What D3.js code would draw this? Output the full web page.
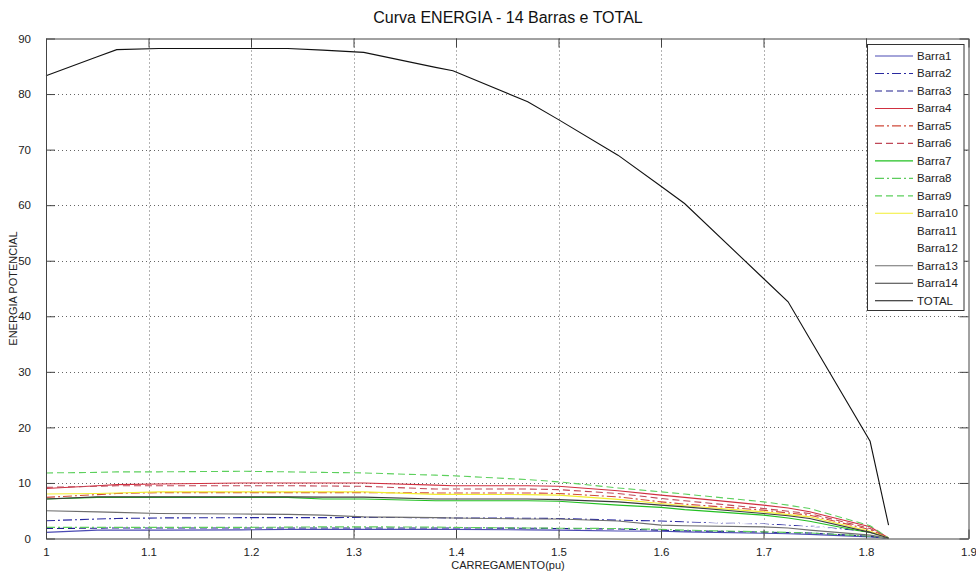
<!DOCTYPE html>
<html>
<head>
<meta charset="utf-8">
<script src="https://cdn.jsdelivr.net/npm/d3@7"></script>
<style>
  html, body { margin: 0; padding: 0; background: #fff; }
  svg { display: block; font-family: "Liberation Sans", Arial, sans-serif; }
</style>
</head>
<body>
<svg id="chart" width="976" height="574"></svg>
<script>
// Loading levels (pu) shared by every curve
const carregamento = [1.00, 1.05, 1.069, 1.11, 1.19, 1.236, 1.27, 1.31, 1.38, 1.397,
                      1.47, 1.50, 1.558, 1.60, 1.623, 1.70, 1.724, 1.745, 1.804, 1.822];

// Potential energy per bus
const barra1  = [1.1, 1.5, 1.5, 1.5, 1.55, 1.65, 1.65, 1.65, 1.65, 1.65, 1.55, 1.5, 1.35, 1.3, 1.2, 0.95, 0.85, 0.75, 0.3, 0.05];
const barra2  = [3.2, 3.5, 3.6, 3.7, 3.75, 3.75, 3.75, 3.8, 3.75, 3.7, 3.65, 3.6, 3.3, 3.15, 3.0, 2.6, 2.4, 2.25, 1.2, 0.05];
const barra3  = [1.8, 1.85, 1.9, 1.9, 1.9, 1.9, 1.9, 1.9, 1.9, 1.9, 1.85, 1.8, 1.7, 1.5, 1.4, 1.15, 1.05, 1.0, 0.4, 0.05];
const barra4  = [9.0, 9.5, 9.7, 9.8, 10.0, 10.0, 10.0, 10.0, 9.6, 9.5, 9.5, 9.4, 8.6, 7.8, 7.4, 6.0, 5.5, 4.8, 2.1, 0.1];
const barra5  = [7.4, 7.9, 8.1, 8.25, 8.25, 8.25, 8.25, 8.25, 8.2, 8.2, 8.2, 8.1, 7.5, 6.6, 6.2, 5.1, 4.6, 4.2, 1.6, 0.1];
const barra6  = [9.2, 9.4, 9.5, 9.5, 9.5, 9.5, 9.45, 9.4, 8.9, 8.9, 8.9, 8.8, 8.1, 7.2, 6.8, 5.4, 4.9, 4.5, 1.8, 0.1];
const barra7  = [7.1, 7.4, 7.4, 7.4, 7.4, 7.4, 7.1, 7.1, 6.8, 6.8, 6.8, 6.7, 6.0, 5.6, 5.2, 4.2, 3.7, 3.1, 1.0, 0.1];
const barra8  = [2.0, 2.0, 2.0, 2.0, 2.0, 2.05, 2.1, 2.1, 2.05, 2.0, 1.9, 1.85, 1.8, 1.65, 1.5, 1.2, 1.1, 1.0, 0.4, 0.05];
const barra9  = [11.8, 11.9, 12.0, 12.0, 12.1, 12.0, 11.9, 11.8, 11.4, 11.3, 10.6, 10.2, 9.1, 8.4, 8.0, 6.6, 6.0, 5.4, 2.3, 0.1];
const barra10 = [8.0, 8.1, 8.2, 8.4, 8.4, 8.4, 8.4, 8.4, 7.95, 7.95, 7.9, 7.8, 7.05, 6.3, 5.9, 4.8, 4.3, 3.9, 1.3, 0.1];
const barra11 = [5.4, 5.6, 5.7, 5.7, 5.8, 5.8, 5.8, 5.7, 5.6, 5.5, 5.2, 5.0, 4.5, 4.0, 3.7, 2.9, 2.6, 2.3, 0.9, 0.05];
const barra12 = [5.0, 5.2, 5.3, 5.3, 5.3, 5.3, 5.3, 5.2, 5.1, 5.0, 4.7, 4.5, 4.0, 3.5, 3.2, 2.5, 2.2, 1.9, 0.7, 0.05];
const barra13 = [5.0, 4.8, 4.7, 4.5, 4.4, 4.35, 4.2, 3.9, 3.75, 3.7, 3.5, 3.5, 3.15, 2.4, 2.3, 2.1, 1.9, 1.5, 0.6, 0.05];
const barra14 = [7.1, 7.5, 7.5, 7.5, 7.5, 7.5, 7.45, 7.45, 7.1, 7.1, 7.1, 7.0, 6.6, 6.0, 5.7, 4.5, 4.1, 3.6, 1.1, 0.1];
const total   = [83.3, 86.7, 88.0, 88.2, 88.2, 88.2, 87.9, 87.5, 84.8, 84.2,
                 78.6, 75.4, 69.0, 63.4, 60.3, 46.8, 42.6, 36.0, 17.5, 2.4];

const seriesNames = ["Barra1", "Barra2", "Barra3", "Barra4", "Barra5", "Barra6", "Barra7",
                     "Barra8", "Barra9", "Barra10", "Barra11", "Barra12", "Barra13", "Barra14", "TOTAL"];
const seriesValues = [barra1, barra2, barra3, barra4, barra5, barra6, barra7,
                      barra8, barra9, barra10, barra11, barra12, barra13, barra14, total];

const xTicks = [1, 1.1, 1.2, 1.3, 1.4, 1.5, 1.6, 1.7, 1.8, 1.9];
const yTicks = [0, 10, 20, 30, 40, 50, 60, 70, 80, 90];

// Line styles (colour, dash pattern) per series
const styles = [
  { color: "#4b4bb4", dash: null },
  { color: "#2a2aa0", dash: "9,3,2,3" },
  { color: "#20208e", dash: "7,4" },
  { color: "#d03040", dash: null },
  { color: "#d04a3a", dash: "9,3,2,3" },
  { color: "#c04858", dash: "7,4" },
  { color: "#22c022", dash: null },
  { color: "#5ccc5c", dash: "9,3,2,3" },
  { color: "#5cd05c", dash: "7,4" },
  { color: "#f2ee30", dash: null },
  { color: "#ffffff", dash: null },
  { color: "#ffffff", dash: "9,3,2,3" },
  { color: "#6e6e6e", dash: null },
  { color: "#3a3a3a", dash: null },
  { color: "#111111", dash: null }
];

const svg = d3.select("#chart");
const L = 46, R = 968.5, T = 38.5, B = 538.5;

const x = d3.scaleLinear().domain([1, 1.9]).range([L, R]);
const y = d3.scaleLinear().domain([0, 90]).range([B, T]);

// Grid
const grid = svg.append("g");
grid.selectAll("line.gx").data(xTicks.slice(1, -1)).join("line")
  .attr("x1", d => Math.round(x(d)) + 0.5).attr("x2", d => Math.round(x(d)) + 0.5)
  .attr("y1", T).attr("y2", B)
  .attr("stroke", "#666").attr("stroke-width", 1).attr("stroke-dasharray", "1,3");
grid.selectAll("line.gy").data(yTicks.slice(1, -1)).join("line")
  .attr("y1", d => Math.round(y(d)) + 0.5).attr("y2", d => Math.round(y(d)) + 0.5)
  .attr("x1", L).attr("x2", R)
  .attr("stroke", "#666").attr("stroke-width", 1).attr("stroke-dasharray", "1,3");

// Curves
const line = d3.line().x((d, i) => x(carregamento[i])).y(d => y(d));
const curves = svg.append("g");
seriesValues.forEach((vals, k) => {
  curves.append("path")
    .attr("d", line(vals))
    .attr("fill", "none")
    .attr("stroke", styles[k].color)
    .attr("stroke-width", 1.1)
    .attr("stroke-dasharray", styles[k].dash);
});

// Axes with inward ticks on all four sides
const tickLen = 9;
const axisColor = "#444";
const fmtX = d => d3.format("")(d);
const axBottom = svg.append("g").attr("transform", `translate(0,${B})`)
  .call(d3.axisBottom(x).tickValues(xTicks).tickSizeInner(-tickLen).tickSizeOuter(0).tickFormat(fmtX).tickPadding(15));
const axTop = svg.append("g").attr("transform", `translate(0,${T})`)
  .call(d3.axisTop(x).tickValues(xTicks).tickSizeInner(-tickLen).tickSizeOuter(0).tickFormat(""));
const axLeft = svg.append("g").attr("transform", `translate(${L},0)`)
  .call(d3.axisLeft(y).tickValues(yTicks).tickSizeInner(-tickLen).tickSizeOuter(0).tickPadding(15));
const axRight = svg.append("g").attr("transform", `translate(${R},0)`)
  .call(d3.axisRight(y).tickValues(yTicks).tickSizeInner(-tickLen).tickSizeOuter(0).tickFormat(""));

[axBottom, axTop, axLeft, axRight].forEach(g => {
  g.select(".domain").attr("stroke", axisColor);
  g.selectAll(".tick line").attr("stroke", axisColor);
  g.selectAll(".tick text").attr("fill", "#222").style("font-size", "11.5px")
    .style("font-family", "'Liberation Sans', Arial, sans-serif");
});
axBottom.selectAll(".tick text").attr("dy", "0.2em");

// Titles
svg.append("text").attr("x", 508).attr("y", 23).attr("text-anchor", "middle")
  .style("font-size", "16px").attr("fill", "#111").text("Curva ENERGIA - 14 Barras e TOTAL");
svg.append("text").attr("x", 508).attr("y", 569).attr("text-anchor", "middle")
  .style("font-size", "11px").attr("fill", "#222").text("CARREGAMENTO(pu)");
svg.append("text").attr("transform", `translate(17,${(T + B) / 2}) rotate(-90)`)
  .attr("text-anchor", "middle").style("font-size", "11px").attr("fill", "#222")
  .text("ENERGIA POTENCIAL");

// Legend
const lg = svg.append("g");
lg.append("rect").attr("x", 867.5).attr("y", 44.5).attr("width", 96.5).attr("height", 266)
  .attr("fill", "#fff").attr("stroke", "#333");
seriesNames.forEach((name, k) => {
  const yy = 56 + k * 17.48;
  lg.append("line").attr("x1", 875).attr("x2", 913).attr("y1", yy).attr("y2", yy)
    .attr("stroke", styles[k].color).attr("stroke-width", 1.1)
    .attr("stroke-dasharray", styles[k].dash);
  lg.append("text").attr("x", 917).attr("y", yy + 4).style("font-size", "11.5px")
    .attr("fill", "#222").text(name);
});
</script>
</body>
</html>
